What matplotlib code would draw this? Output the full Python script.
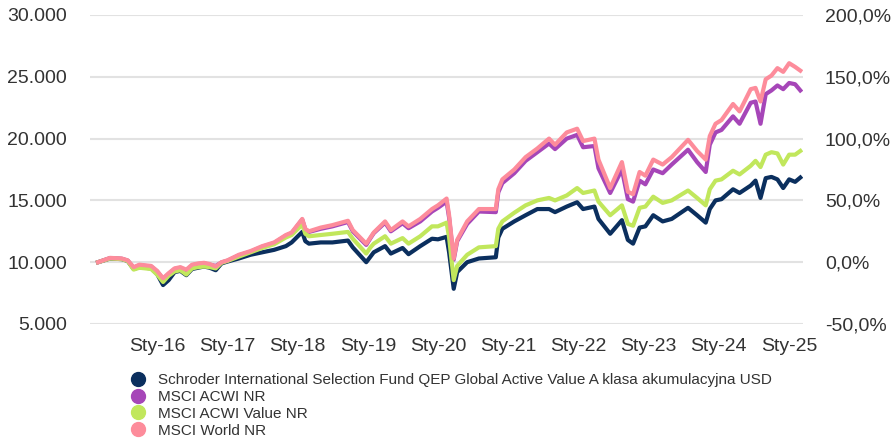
import matplotlib
matplotlib.use("Agg")
import matplotlib.pyplot as plt
import matplotlib.ticker as mticker
from matplotlib.lines import Line2D
import pandas as pd

plt.rcParams["font.family"] = ["Liberation Sans", "DejaVu Sans"]

# ---------------- DATA (value of 10 000 invested) ----------------

dates = [
    "2015-02-28", "2015-05-01", "2015-07-01", "2015-08-01", "2015-09-01", "2015-10-01",
    "2015-12-01", "2016-01-01", "2016-02-01", "2016-03-01", "2016-04-01", "2016-05-01",
    "2016-06-01", "2016-07-01", "2016-08-01", "2016-09-01", "2016-10-01", "2016-11-01",
    "2016-12-01", "2017-01-01", "2017-03-01", "2017-05-01", "2017-07-01", "2017-09-01",
    "2017-11-01", "2017-12-01", "2018-01-25", "2018-02-10", "2018-03-01", "2018-05-01",
    "2018-07-01", "2018-09-20", "2018-10-15", "2018-12-24", "2019-01-15", "2019-02-01",
    "2019-04-01", "2019-05-01", "2019-07-01", "2019-08-01", "2019-10-01", "2019-12-01",
    "2020-01-01", "2020-02-15", "2020-02-28", "2020-03-23", "2020-04-10", "2020-06-01",
    "2020-08-01", "2020-10-28", "2020-11-10", "2020-12-01", "2021-02-01", "2021-04-01",
    "2021-06-01", "2021-08-01", "2021-09-01", "2021-11-01", "2021-12-25", "2022-01-25",
    "2022-03-25", "2022-04-15", "2022-06-15", "2022-08-15", "2022-09-15", "2022-10-12",
    "2022-11-15", "2022-12-15", "2023-01-25", "2023-03-15", "2023-05-01", "2023-07-25",
    "2023-09-10", "2023-10-25", "2023-11-15", "2023-12-15", "2024-01-15", "2024-03-15",
    "2024-04-18", "2024-06-15", "2024-07-10", "2024-08-05", "2024-09-01", "2024-10-01",
    "2024-11-01", "2024-12-01", "2025-01-01", "2025-02-01", "2025-02-28",
]

fund = [
    10000, 10300, 10250, 10100, 9450, 9600,
    9500, 9050, 8150, 8550, 9200, 9300,
    8950, 9450, 9550, 9650, 9550, 9350,
    9900, 10050, 10300, 10600, 10800, 11000,
    11300, 11600, 12450, 11700, 11500, 11600,
    11600, 11750, 11200, 10000, 10450, 10800,
    11300, 10700, 11150, 10650, 11300, 11900,
    11850, 12050, 10800, 7850, 9200, 10000,
    10300, 10400, 12000, 12700, 13300, 13800,
    14300, 14300, 14050, 14500, 14850, 14300,
    14500, 13500, 12300, 13400, 11800, 11500,
    12800, 12900, 13800, 13300, 13500, 14400,
    13800, 13200, 14300, 15000, 15100, 15900,
    15600, 16200, 16600, 15200, 16800, 16900,
    16700, 16000, 16700, 16500, 16850,
]

acwi = [
    10000, 10330, 10280, 10130, 9550, 9750,
    9650, 9250, 8650, 9050, 9450, 9550,
    9300, 9750, 9850, 9900, 9800, 9700,
    9980, 10120, 10550, 10850, 11250, 11550,
    12150, 12350, 13450, 12650, 12450, 12700,
    12900, 13250, 12500, 11400, 11950, 12350,
    13200, 12500, 13150, 12750, 13300, 14100,
    14400, 14900, 13600, 10200, 11700, 13100,
    14100, 14050, 15650, 16400, 17200, 18200,
    18900, 19600, 19150, 20000, 20300, 19300,
    19400, 17600, 15600, 17500, 15100, 14900,
    16600, 16300, 17500, 17200, 17900, 19100,
    18100, 17300, 19500, 20500, 20700, 21800,
    21200, 22900, 23000, 21200, 23600, 23900,
    24300, 24000, 24500, 24400, 23900,
]

acwi_value = [
    10000, 10300, 10250, 10100, 9400, 9550,
    9450, 9000, 8400, 8900, 9250, 9350,
    9000, 9500, 9600, 9650, 9600, 9500,
    9950, 10100, 10450, 10800, 11150, 11450,
    12000, 12200, 13050, 12300, 12100, 12200,
    12300, 12450, 11900, 10700, 11200, 11500,
    12100, 11500, 11950, 11500, 12100, 12900,
    12900, 13200, 12000, 8550, 9700, 10600,
    11200, 11300, 12700, 13300, 14000, 14600,
    15000, 15200, 15000, 15400, 16000, 15600,
    15800, 14900, 13800, 14600, 13100, 12950,
    14400, 14500, 15300, 14800, 15000, 15800,
    15200, 14600, 15900, 16600, 16700, 17400,
    17100, 17800, 18200, 17700, 18700, 18900,
    18800, 17900, 18700, 18700, 19000,
]

world = [
    10000, 10350, 10300, 10150, 9600, 9800,
    9700, 9300, 8700, 9110, 9500, 9600,
    9400, 9800, 9900, 9950, 9850, 9650,
    10000, 10150, 10600, 10900, 11300, 11600,
    12200, 12400, 13500, 12700, 12500, 12800,
    13000, 13350, 12600, 11500, 12000, 12400,
    13300, 12600, 13300, 12900, 13500, 14300,
    14600, 15150, 13800, 10300, 11800, 13300,
    14300, 14300, 15900, 16700, 17500, 18500,
    19200, 20000, 19500, 20500, 20800, 19800,
    20000, 18300, 16000, 18100, 15700, 15500,
    17300, 17000, 18300, 17900, 18500, 19900,
    19000, 18300, 20200, 21200, 21500, 22800,
    22200, 24000, 24100, 23000, 24800, 25100,
    25700, 25400, 26100, 25800, 25500,
]

series_names = [
    "Schroder International Selection Fund QEP Global Active Value A klasa akumulacyjna USD",
    "MSCI ACWI NR",
    "MSCI ACWI Value NR",
    "MSCI World NR",
]
series_colors = ["#0b2f5e", "#a646b8", "#c1e75c", "#fd8c9b"]

tick_years = list(range(2016, 2026))
tick_labels = [f"Sty-{y % 100:02d}" for y in tick_years]

# ---------------- PLOT ----------------

x = pd.to_datetime(dates)

fig = plt.figure(figsize=(8.93, 4.42), dpi=100)
ax = fig.add_axes([90 / 893, 1 - 324 / 442, 713 / 893, 309 / 442])

for vals, col in zip([fund, acwi, acwi_value, world], series_colors):
    ax.plot(x, vals, color=col, linewidth=3.0, solid_joinstyle="round", zorder=3)

ax.set_ylim(5000, 30000)
ax.set_yticks(range(5000, 30001, 5000))
ax.yaxis.set_major_formatter(mticker.FuncFormatter(lambda v, p: f"{int(v):,}".replace(",", ".")))
ax.set_xlim(pd.Timestamp("2015-01-17"), pd.Timestamp("2025-03-14"))
ax.set_xticks(pd.to_datetime([f"{y}-01-01" for y in tick_years]))
ax.set_xticklabels(tick_labels)

ax.grid(axis="y", color="#e2e2e2", linewidth=1.5, zorder=0)
for s in ax.spines.values():
    s.set_visible(False)
ax.tick_params(axis="both", length=0, labelsize=14, colors="#333333")
ax.tick_params(axis="y", pad=16.5)
ax.tick_params(axis="x", pad=10)

ax2 = ax.twinx()
ax2.set_ylim(-50, 200)
ax2.set_yticks(range(-50, 201, 50))
ax2.yaxis.set_major_formatter(mticker.FuncFormatter(lambda v, p: f"{v:.1f}%".replace(".", ",")))
for s in ax2.spines.values():
    s.set_visible(False)
ax2.tick_params(axis="y", length=0, labelsize=14, colors="#333333", pad=15.8)

handles = [Line2D([], [], linestyle="none", marker="o", markersize=10,
                  markerfacecolor=c, markeredgecolor=c) for c in series_colors]
fig.legend(handles, series_names, loc="upper left", bbox_to_anchor=(130 / 893, 1 - 373 / 442),
           frameon=False, fontsize=11, handletextpad=0.85, labelspacing=0.19,
           handlelength=1.0, borderpad=0, borderaxespad=0, labelcolor="#333333")

fig.savefig("out.png", dpi=100)
plt.close(fig)
